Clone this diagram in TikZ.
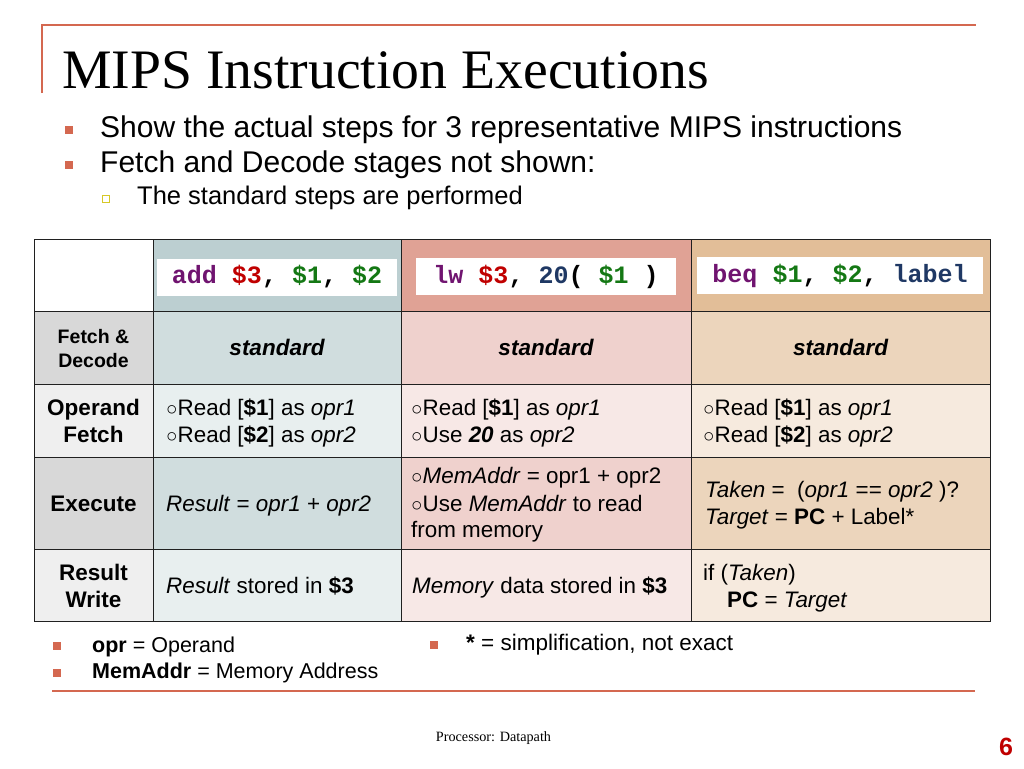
\documentclass[tikz,border=0pt]{standalone}
\usepackage{fontspec}
\usepackage{graphicx}
\setmainfont{Liberation Sans}
\newfontfamily\titlefont{Liberation Serif}
\newfontfamily\codefont{Liberation Mono}
\definecolor{accent}{RGB}{212,104,80}
\definecolor{tablin}{RGB}{32,32,32}
\definecolor{hdrAdd}{RGB}{188,207,209}
\definecolor{hdrLw}{RGB}{224,162,149}
\definecolor{hdrBeq}{RGB}{226,190,152}
\definecolor{dkGr}{RGB}{216,216,216}
\definecolor{dkAdd}{RGB}{208,221,222}
\definecolor{dkLw}{RGB}{239,209,205}
\definecolor{dkBeq}{RGB}{236,213,188}
\definecolor{ltGr}{RGB}{239,239,239}
\definecolor{ltAdd}{RGB}{232,239,239}
\definecolor{ltLw}{RGB}{247,232,230}
\definecolor{ltBeq}{RGB}{246,234,222}
\definecolor{cpur}{RGB}{112,20,112}
\definecolor{cred}{RGB}{192,0,0}
\definecolor{cgrn}{RGB}{20,120,20}
\definecolor{cnav}{RGB}{31,56,100}
\definecolor{subyel}{RGB}{214,200,40}
\definecolor{pgred}{RGB}{192,0,0}
\newcommand\cb{\raisebox{0pt}{\scalebox{0.85}{○}}}
\begin{document}
\begin{tikzpicture}[x=1pt,y=-1pt,
  cell/.style={draw=tablin, line width=1.4pt, inner sep=0pt, anchor=north west},
  tx/.style={inner sep=0pt, anchor=base west, font=\fontsize{22.4}{27}\selectfont},
  lb/.style={inner sep=0pt, anchor=base, font=\bfseries\fontsize{22.5}{27}\selectfont},
  stdtx/.style={inner sep=0pt, anchor=base, font=\bfseries\itshape\fontsize{22.5}{27}\selectfont},
  codebox/.style={fill=white, inner sep=0pt, minimum height=37pt, font=\codefont\bfseries\fontsize{25}{28}\selectfont},
  bsq/.style={fill=accent, minimum size=8.5pt, inner sep=0pt},
  btx/.style={inner sep=0pt, anchor=base west, font=\fontsize{30}{34}\selectfont},
  ftx/.style={inner sep=0pt, anchor=base west, font=\fontsize{21.5}{26}\selectfont}]
\useasboundingbox (0,0) rectangle (1024,768);
\fill[white] (0,0) rectangle (1024,768);
% frame lines
\coordinate (tl0) at (42,93);
\coordinate (tl1) at (42,25);
\coordinate (tl2) at (976,25);
\draw[accent, line width=2pt] (tl0) -- (tl1) -- (tl2);
\coordinate (bl0) at (52,691);
\coordinate (bl1) at (975,691);
\draw[accent, line width=2pt] (bl0) -- (bl1);
% title
\node[inner sep=0pt, anchor=base west, font=\titlefont\fontsize{55.7}{60}\selectfont] (title) at (62,88) {MIPS Instruction Executions};
% bullets
\node[bsq] (b1) at (69,130) {};
\node[btx] (b1t) at (100,137) {Show the actual steps for 3 representative MIPS instructions};
\node[bsq] (b2) at (69,165) {};
\node[btx] (b2t) at (100,172) {Fetch and Decode stages not shown:};
\node[draw=subyel, line width=1.6pt, minimum size=7pt, inner sep=0pt] (b3) at (106,199) {};
\node[inner sep=0pt, anchor=base west, font=\fontsize{25.5}{30}\selectfont] (b3t) at (137,204) {The standard steps are performed};
% table cells: row 0
\node[cell, fill=white, minimum width=119pt, minimum height=72pt] (c00) at (34,239) {};
\node[cell, fill=hdrAdd, minimum width=248pt, minimum height=72pt] (c01) at (153,239) {};
\node[cell, fill=hdrLw, minimum width=290pt, minimum height=72pt] (c02) at (401,239) {};
\node[cell, fill=hdrBeq, minimum width=299pt, minimum height=72pt] (c03) at (691,239) {};
% row 1
\node[cell, fill=dkGr, minimum width=119pt, minimum height=73pt] (c10) at (34,311) {};
\node[cell, fill=dkAdd, minimum width=248pt, minimum height=73pt] (c11) at (153,311) {};
\node[cell, fill=dkLw, minimum width=290pt, minimum height=73pt] (c12) at (401,311) {};
\node[cell, fill=dkBeq, minimum width=299pt, minimum height=73pt] (c13) at (691,311) {};
% row 2
\node[cell, fill=ltGr, minimum width=119pt, minimum height=73pt] (c20) at (34,384) {};
\node[cell, fill=ltAdd, minimum width=248pt, minimum height=73pt] (c21) at (153,384) {};
\node[cell, fill=ltLw, minimum width=290pt, minimum height=73pt] (c22) at (401,384) {};
\node[cell, fill=ltBeq, minimum width=299pt, minimum height=73pt] (c23) at (691,384) {};
% row 3
\node[cell, fill=dkGr, minimum width=119pt, minimum height=92pt] (c30) at (34,457) {};
\node[cell, fill=dkAdd, minimum width=248pt, minimum height=92pt] (c31) at (153,457) {};
\node[cell, fill=dkLw, minimum width=290pt, minimum height=92pt] (c32) at (401,457) {};
\node[cell, fill=dkBeq, minimum width=299pt, minimum height=92pt] (c33) at (691,457) {};
% row 4
\node[cell, fill=ltGr, minimum width=119pt, minimum height=72pt] (c40) at (34,549) {};
\node[cell, fill=ltAdd, minimum width=248pt, minimum height=72pt] (c41) at (153,549) {};
\node[cell, fill=ltLw, minimum width=290pt, minimum height=72pt] (c42) at (401,549) {};
\node[cell, fill=ltBeq, minimum width=299pt, minimum height=72pt] (c43) at (691,549) {};
% header code boxes
\node[codebox, minimum width=240pt] (k1) at (277,277) {\textcolor{cpur}{add} \textcolor{cred}{\$3}, \textcolor{cgrn}{\$1}, \textcolor{cgrn}{\$2}};
\node[codebox, minimum width=260pt] (k2) at (546,276.5) {\textcolor{cpur}{lw} \textcolor{cred}{\$3}, \textcolor{cnav}{20}( \textcolor{cgrn}{\$1} )};
\node[codebox, minimum width=286pt] (k3) at (840,275.5) {\textcolor{cpur}{beq} \textcolor{cgrn}{\$1}, \textcolor{cgrn}{\$2}, \textcolor{cnav}{label}};
% row 1 text
\node[inner sep=0pt, anchor=base, font=\bfseries\fontsize{19.5}{24}\selectfont] (l1a) at (93.5,343) {Fetch \&};
\node[inner sep=0pt, anchor=base, font=\bfseries\fontsize{19.5}{24}\selectfont] (l1b) at (93.5,367) {Decode};
\node[stdtx] (s1) at (277,355) {standard};
\node[stdtx] (s2) at (546,355) {standard};
\node[stdtx] (s3) at (840.5,355) {standard};
% row 2 text
\node[lb] (l2a) at (93.5,415) {Operand};
\node[lb] (l2b) at (93.5,442) {Fetch};
\node[tx] (t21a) at (166,415) {\cb Read [\textbf{\$1}] as \textit{opr1}};
\node[tx] (t21b) at (166,442) {\cb Read [\textbf{\$2}] as \textit{opr2}};
\node[tx] (t22a) at (411,415) {\cb Read [\textbf{\$1}] as \textit{opr1}};
\node[tx] (t22b) at (411,442) {\cb Use \textbf{\textit{20}} as \textit{opr2}};
\node[tx] (t23a) at (703,415) {\cb Read [\textbf{\$1}] as \textit{opr1}};
\node[tx] (t23b) at (703,442) {\cb Read [\textbf{\$2}] as \textit{opr2}};
% row 3 text
\node[lb] (l3) at (93.5,511) {Execute};
\node[tx] (t31) at (166,511) {\textit{Result} = \textit{opr1} + \textit{opr2}};
\node[tx] (t32a) at (411,483) {\cb\textit{MemAddr} = opr1 + opr2};
\node[tx] (t32b) at (411,511) {\cb Use \textit{MemAddr} to read};
\node[tx] (t32c) at (411,537) {from memory};
\node[tx] (t33a) at (705,497) {\textit{Taken} = \ (\textit{opr1} == \textit{opr2} )?};
\node[tx] (t33b) at (705,524) {\textit{Target} = \textbf{PC} + Label*};
% row 4 text
\node[lb] (l4a) at (93.5,580) {Result};
\node[lb] (l4b) at (93.5,607) {Write};
\node[tx] (t41) at (166,593) {\textit{Result} stored in \textbf{\$3}};
\node[tx] (t42) at (412,593) {\textit{Memory} data stored in \textbf{\$3}};
\node[tx] (t43a) at (703,580) {if (\textit{Taken})};
\node[tx] (t43b) at (727,607) {\textbf{PC} = \textit{Target}};
% footnotes
\node[bsq] (f1) at (57,646) {};
\node[ftx] (f1t) at (92,652) {\textbf{opr} = Operand};
\node[bsq] (f2) at (57,673) {};
\node[ftx] (f2t) at (92,678) {\textbf{MemAddr} = Memory Address};
\node[bsq] (f3) at (434,645) {};
\node[inner sep=0pt, anchor=base west, font=\fontsize{22.5}{26}\selectfont] (f3t) at (466,650) {\textbf{*} = simplification, not exact};
% footer
\node[inner sep=0pt, anchor=base, font=\titlefont\fontsize{14.2}{17}\selectfont] (foot) at (493.5,741) {Processor: Datapath};
\node[inner sep=0pt, anchor=base, text=pgred, font=\bfseries\fontsize{25}{28}\selectfont] (pg) at (1006,755) {6};
\end{tikzpicture}
\end{document}
